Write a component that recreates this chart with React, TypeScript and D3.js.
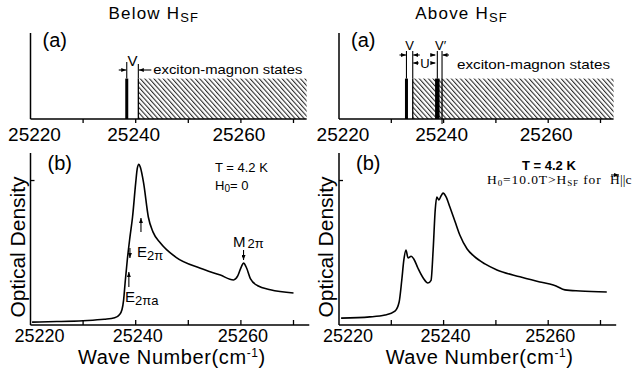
import React from "react";
import * as d3 from "d3";

// wave number axis
const waveTicks = [25220, 25230, 25240, 25250, 25260, 25270];
const waveLabels = [25220, 25240, 25260];
const axisEnd = 25273;

// (b) spectra, H0 = 0 (below spin flop)
const belowWave = [
  25220.3, 25225, 25230, 25234, 25236, 25236.9, 25237.4, 25237.7, 25238.0, 25238.4,
  25238.9, 25239.4, 25240.0, 25240.3, 25240.6, 25240.9, 25241.5, 25242.4, 25243.3,
  25244.7, 25247.6, 25252.3, 25256.1, 25258.6, 25259.4, 25260.1, 25260.5, 25261.1,
  25261.8, 25263.2, 25265.6, 25270,
];
const belowOD = [
  0.017, 0.02, 0.025, 0.033, 0.042, 0.06, 0.09, 0.145, 0.25, 0.378,
  0.51, 0.628, 0.826, 0.91, 0.935, 0.915, 0.826, 0.628, 0.54,
  0.477, 0.395, 0.33, 0.29, 0.262, 0.285, 0.34, 0.36, 0.33,
  0.27, 0.228, 0.205, 0.186,
];

// (b) spectra, H0 = 10.0 T (above spin flop)
const aboveWave = [
  25220.4, 25225.9, 25228.8, 25230.7, 25231.5, 25232.0, 25232.4, 25232.8, 25233.2,
  25233.8, 25234.3, 25235.1, 25236.1, 25237.0, 25237.6, 25238.0, 25238.4, 25238.7,
  25239.1, 25239.5, 25239.9, 25240.5, 25241.2, 25242.2, 25243.1, 25244.5, 25245.8,
  25247.9, 25250.2, 25254.6, 25258.4, 25260.3, 25261.5, 25263.2, 25266.1, 25271.2,
];
const aboveOD = [
  0.04, 0.047, 0.058, 0.081, 0.134, 0.26, 0.378, 0.436, 0.39,
  0.4, 0.384, 0.33, 0.273, 0.244, 0.26, 0.436, 0.67, 0.744,
  0.727, 0.75, 0.767, 0.744, 0.686, 0.6, 0.523, 0.442, 0.4,
  0.355, 0.32, 0.28, 0.25, 0.238, 0.227, 0.204, 0.198, 0.192,
];

// (a) level schemes
const belowBars = [25238.3];
const belowEdges = [25240.5];
const aboveBars = [25232.9, 25238.8];
const aboveEdges = [25234.1, 25239.7];
const statesTop = 0.47;
const statesEnd = 25272.5;

const FONT = "Liberation Sans, Arial, sans-serif";
const SERIF = "Liberation Serif, serif";

const yTop = d3.scaleLinear().domain([0, 1]).range([119, 33]);
const yBot = d3.scaleLinear().domain([0, 1]).range([325, 153]);

const Arrow = ({ x1, y1, x2, y2 }: { x1: number; y1: number; x2: number; y2: number }) => (
  <line x1={x1} y1={y1} x2={x2} y2={y2} stroke="#000" strokeWidth={1.1} markerEnd="url(#arr)" />
);

interface PanelProps {
  x: d3.ScaleLinear<number, number>;
  title: string;
  bars: number[];
  barWidths: number[];
  edges: number[];
  wave: number[];
  od: number[];
}

const Panel = ({ x, title, bars, barWidths, edges, wave, od }: PanelProps) => {
  const x0 = x(waveTicks[0]);
  const line = d3
    .line<number>()
    .x((d, i) => x(wave[i]))
    .y((d) => yBot(d))
    .curve(d3.curveMonotoneX);
  const titleX = (x0 + x(axisEnd)) / 2 - 16;
  return (
    <g>
      <text x={titleX} y={19} textAnchor="middle" fontFamily={FONT} fontSize={17} letterSpacing={1.2}>
        {title} H
        <tspan fontSize={13} dy={3}>SF</tspan>
      </text>

      {/* (a) panel */}
      <text x={x0 + 12} y={47} fontFamily={FONT} fontSize={20}>(a)</text>
      <rect
        x={x(edges[0])}
        y={yTop(statesTop)}
        width={x(statesEnd) - x(edges[0])}
        height={yTop(0) - yTop(statesTop)}
        fill="url(#hatch)"
      />
      <line x1={x0} y1={yTop(1)} x2={x0} y2={yTop(0)} stroke="#000" strokeWidth={1.5} />
      <line x1={x0} y1={yTop(0)} x2={x(statesEnd)} y2={yTop(0)} stroke="#000" strokeWidth={1.5} />
      {waveTicks.slice(1).map((t) => (
        <line key={t} x1={x(t)} x2={x(t)} y1={yTop(0)} y2={yTop(0) + 4} stroke="#000" strokeWidth={1.3} />
      ))}
      {waveLabels.map((t, i) => (
        <text key={t} x={x(t) + (i === 0 ? 4 : -2)} y={141} textAnchor="middle" fontFamily={FONT} fontSize={19}>
          {t}
        </text>
      ))}
      {bars.map((b, i) => (
        <rect
          key={b}
          x={x(b) - barWidths[i] / 2}
          y={yTop(statesTop)}
          width={barWidths[i]}
          height={yTop(0) - yTop(statesTop)}
          fill="#000"
        />
      ))}
      {edges.map((e) => (
        <line key={e} x1={x(e)} x2={x(e)} y1={yTop(0)} y2={yTop(statesTop)} stroke="#000" strokeWidth={1.3} />
      ))}

      {/* (b) panel */}
      <line x1={x0} y1={yBot(1)} x2={x0} y2={yBot(0)} stroke="#000" strokeWidth={1.5} />
      <line x1={x0} y1={yBot(0)} x2={x(axisEnd)} y2={yBot(0)} stroke="#000" strokeWidth={1.5} />
      <line x1={x0} x2={x0 + 4} y1={yBot(0.84)} y2={yBot(0.84)} stroke="#000" strokeWidth={1.3} />
      {waveTicks.slice(1).map((t) => (
        <line key={t} x1={x(t)} x2={x(t)} y1={yBot(0)} y2={yBot(0) - 5} stroke="#000" strokeWidth={1.3} />
      ))}
      {waveLabels.map((t, i) => (
        <text key={t} x={x(t) + (i === 0 ? 9 : 2)} y={342} textAnchor="middle" fontFamily={FONT} fontSize={18}>
          {t}
        </text>
      ))}
      <path d={line(od) ?? ""} fill="none" stroke="#000" strokeWidth={1.6} />
      <text x={x0 + 17} y={170} fontFamily={FONT} fontSize={20}>(b)</text>
      <text
        transform={`translate(${x0 - 6},${(yBot(0) + yBot(1)) / 2 + 8}) rotate(-90)`}
        textAnchor="middle"
        fontFamily={FONT}
        fontSize={21}
      >
        Optical Density
      </text>
      <text x={(x0 + x(axisEnd)) / 2 + 2} y={364} textAnchor="middle" fontFamily={FONT} fontSize={20} letterSpacing={0.6}>
        Wave Number(cm
        <tspan fontSize={12} dy={-7}>-1</tspan>
        <tspan dy={7}>)</tspan>
      </text>
    </g>
  );
};

export default function App() {
  const xL = d3.scaleLinear().domain([25220, 25270]).range([30.5, 293.5]);
  const xR = d3.scaleLinear().domain([25220, 25270]).range([339, 600.5]);

  return (
    <svg width={637} height={373} style={{ position: "absolute", left: 0, top: 0, background: "#fff" }}>
      <defs>
        <marker id="arr" viewBox="0 0 10 8" refX={10} refY={4} markerWidth={5} markerHeight={4} orient="auto" markerUnits="userSpaceOnUse">
          <path d="M0,0 L10,4 L0,8 z" fill="#000" />
        </marker>
        <pattern id="hatch" patternUnits="userSpaceOnUse" width={3.4} height={10} patternTransform="rotate(-42)">
          <line x1={0.6} y1={0} x2={0.6} y2={10} stroke="#000" strokeWidth={0.9} />
        </pattern>
      </defs>

      <Panel x={xL} title="Below" bars={belowBars} barWidths={[3]} edges={belowEdges} wave={belowWave} od={belowOD} />
      <Panel x={xR} title="Above" bars={aboveBars} barWidths={[3, 4.5]} edges={aboveEdges} wave={aboveWave} od={aboveOD} />

      {/* left (a) annotations */}
      <line x1={xL(belowBars[0])} x2={xL(belowBars[0])} y1={yTop(statesTop)} y2={62} stroke="#000" strokeWidth={1.1} />
      <line x1={xL(belowEdges[0])} x2={xL(belowEdges[0])} y1={yTop(statesTop)} y2={64} stroke="#000" strokeWidth={1.1} />
      <Arrow x1={xL(belowBars[0]) - 8} y1={70} x2={xL(belowBars[0]) - 0.5} y2={70} />
      <Arrow x1={xL(belowEdges[0]) + 13} y1={70} x2={xL(belowEdges[0]) + 0.5} y2={70} />
      <text x={(xL(belowBars[0]) + xL(belowEdges[0])) / 2} y={66} textAnchor="middle" fontFamily={FONT} fontSize={15}>V</text>
      <text x={xL(belowEdges[0]) + 15} y={74} fontFamily={FONT} fontSize={13} textLength={149} lengthAdjust="spacingAndGlyphs">
        exciton-magnon states
      </text>

      {/* right (a) annotations */}
      {[...aboveBars, ...aboveEdges].map((v) => (
        <line key={v} x1={xR(v)} x2={xR(v)} y1={yTop(statesTop)} y2={51} stroke="#000" strokeWidth={1.1} />
      ))}
      <line x1={xR(aboveEdges[1])} x2={xR(aboveEdges[1])} y1={yTop(0)} y2={yTop(0) + 5} stroke="#000" strokeWidth={1.1} />
      <Arrow x1={xR(aboveBars[0]) - 7} y1={55} x2={xR(aboveBars[0]) - 0.5} y2={55} />
      <Arrow x1={xR(aboveEdges[0]) + 7} y1={55} x2={xR(aboveEdges[0]) + 0.5} y2={55} />
      <text x={(xR(aboveBars[0]) + xR(aboveEdges[0])) / 2} y={50} textAnchor="middle" fontFamily={FONT} fontSize={13}>V</text>
      <Arrow x1={xR(aboveEdges[0]) + 6} y1={63} x2={xR(aboveEdges[0]) + 0.5} y2={63} />
      <Arrow x1={xR(aboveBars[1]) - 5} y1={63} x2={xR(aboveBars[1]) - 2} y2={63} />
      <text x={(xR(aboveEdges[0]) + xR(aboveBars[1])) / 2} y={68} textAnchor="middle" fontFamily={FONT} fontSize={13}>U</text>
      <Arrow x1={xR(aboveBars[1]) - 7} y1={55} x2={xR(aboveBars[1]) - 2} y2={55} />
      <Arrow x1={xR(aboveEdges[1]) + 7} y1={55} x2={xR(aboveEdges[1]) + 0.5} y2={55} />
      <text x={(xR(aboveBars[1]) + xR(aboveEdges[1])) / 2 + 1} y={50} textAnchor="middle" fontFamily={FONT} fontSize={13}>V′</text>
      <text x={457} y={69} fontFamily={FONT} fontSize={13} textLength={153} lengthAdjust="spacingAndGlyphs">
        exciton-magnon states
      </text>

      {/* left (b) annotations */}
      <text x={215} y={172} fontFamily={FONT} fontSize={13}>T = 4.2 K</text>
      <text x={215} y={190} fontFamily={FONT} fontSize={13}>
        H<tspan fontSize={10} dy={2}>0</tspan>
        <tspan dy={-2}>= 0</tspan>
      </text>
      <Arrow x1={xL(25241.0)} y1={232} x2={xL(25241.0)} y2={218} />
      <text x={137} y={257} fontFamily={FONT} fontSize={15}>
        E<tspan fontSize={13} dy={3}>2π</tspan>
      </text>
      <Arrow x1={xL(25238.9)} y1={248} x2={xL(25238.9)} y2={258} />
      <Arrow x1={xL(25238.7)} y1={287} x2={xL(25238.7)} y2={272} />
      <text x={125} y={302} fontFamily={FONT} fontSize={15}>
        E<tspan fontSize={13} dy={3}>2πa</tspan>
      </text>
      <text x={233} y={247} fontFamily={FONT} fontSize={15}>
        M<tspan fontSize={13} dy={1} dx={2}>2π</tspan>
      </text>
      <Arrow x1={xL(25260.5)} y1={250} x2={xL(25260.5)} y2={260} />

      {/* right (b) annotations */}
      <text x={522} y={170} fontFamily={FONT} fontSize={13} fontWeight="bold">T = 4.2 K</text>
      <text x={487} y={184} fontFamily={SERIF} fontSize={13.5} letterSpacing={0.9}>
        H<tspan fontSize={9} dy={2}>0</tspan>
        <tspan dy={-2}>=10.0T&gt;H</tspan>
        <tspan fontSize={9} dy={2}>SF</tspan>
        <tspan dy={-2}> for</tspan>
      </text>
      <text x={610} y={184} fontFamily={SERIF} fontSize={13.5}>H</text>
      <Arrow x1={611} y1={175} x2={619} y2={175} />
      <text x={620} y={184} fontFamily={SERIF} fontSize={13.5}>||c</text>
    </svg>
  );
}
